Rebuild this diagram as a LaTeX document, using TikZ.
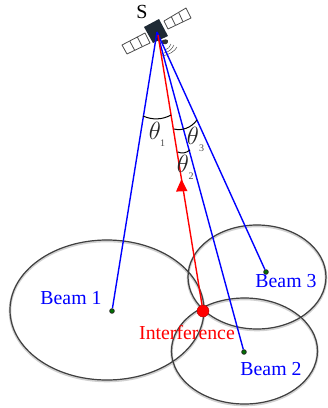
\documentclass[tikz,border=0pt]{standalone}
\usepackage{fontspec}
\setmainfont{Liberation Serif}
\usetikzlibrary{arrows.meta}
\definecolor{satbody}{HTML}{1F2A35}
\begin{document}
\begin{tikzpicture}[x=1pt,y=-1pt,
  cell/.style={draw=black!70,line width=0.8pt,fill=white,line join=round},
  beamcell/.style={draw=black!75,line width=1.2pt},
  halo/.style={draw=black!18,line width=2.6pt},
  spot/.style={circle,draw=black!85,fill=green!45!black,inner sep=0pt,minimum size=4.6pt,line width=0.8pt},
  beamline/.style={draw=blue,line width=1.4pt},
  redline/.style={draw=red,line width=1.4pt},
  beamlabel/.style={text=blue,font=\fontsize{19.8}{22}\selectfont,inner sep=0pt},
  anglearc/.style={draw=black,line width=1pt},
  anglelabel/.style={inner sep=0pt,text=black!85,font=\fontsize{23}{25}\selectfont\itshape},
  sublabel/.style={inner sep=0pt,text=black!70,font=\fontsize{10}{11}\selectfont}]
\useasboundingbox (0,0) rectangle (328,408);
% beam footprints
\draw[halo] (107,311) ellipse [x radius=97,y radius=70];
\draw[halo] (244.5,352) ellipse [x radius=73,y radius=53];
\draw[halo] (257,278) ellipse [x radius=69,y radius=52];
\draw[beamcell] (107,310) ellipse [x radius=97,y radius=70];
\draw[beamcell] (244.5,351) ellipse [x radius=73,y radius=53];
\draw[beamcell] (257,277) ellipse [x radius=69,y radius=52];
% satellite
\fill[cell] (164,21) -- (186,8) -- (191,18) -- (168,29) -- cycle;
\draw[cell] (171.3,16.7) -- (175.5,25.3) (178.6,12.3) -- (183,21.8);
\fill[cell] (122,45) -- (145,33) -- (150,43) -- (127,54) -- cycle;
\draw[cell] (129.7,41) -- (134.7,50.3) (137.3,37) -- (142.3,46.7);
\fill[satbody] (159,19) -- (168,36) -- (153,43) -- (144,27) -- cycle;
\fill[black!80] (160,42) .. controls (164,38) and (169,39) .. (168,42) .. controls (167,45) and (164,45) .. (160,42);
\draw[black!70,line width=0.5pt]
  (165,50) .. controls (168,49) and (170,47) .. (171,44)
  (164,53) .. controls (169,52) and (172,49) .. (174,45)
  (162,56) .. controls (169,55) and (175,51) .. (177,47);
\coordinate (sat) at (157,32);
\coordinate (satred) at (158,35);
\node[inner sep=0pt,font=\fontsize{20}{22}\selectfont] (slabel) at (142,12) {S};
% beam centres
\node[spot] (b1) at (112,311) {};
\node[spot] (b2) at (244,352) {};
\node[spot] (b3) at (266,272) {};
% lines
\draw[beamline] (sat) -- (b1);
\draw[beamline] (sat) -- (b2);
\draw[beamline] (sat) -- (b3);
\node[circle,draw=red!70!black,fill=red,inner sep=0pt,minimum width=12pt,minimum height=10pt] (dot) at (203,311) {};
\draw[redline] (satred) -- (dot);
\coordinate (tip) at (181.5,179);
\draw[draw=none,fill=red] (tip) -- ++(6,12) -- ++(-11.5,0.6) -- cycle;
% angle arcs
\draw[anglearc] (143,116) .. controls (152,120) and (162,120) .. (171,115);
\draw[anglearc] (174,129) .. controls (182,131) and (191,128) .. (197,120);
\draw[anglearc] (178,152) .. controls (182,154) and (186,153) .. (190,150);
% angle labels
\node[anglelabel] (t1) at (155,131) {$\theta$};
\node[sublabel] (s1) at (162.5,143) {1};
\node[anglelabel] (t2) at (183,164) {$\theta$};
\node[sublabel] (s2) at (191,176) {2};
\node[anglelabel] (t3) at (193,136) {$\theta$};
\node[sublabel] (s3) at (201.5,148) {3};
% text
\node[beamlabel] (l1) at (71,298) {Beam 1};
\node[beamlabel] (l2) at (271,369) {Beam 2};
\node[beamlabel] (l3) at (286,281) {Beam 3};
\node[inner sep=0pt,text=red,font=\fontsize{19.8}{22}\selectfont] (li) at (187,333) {Interference};
\end{tikzpicture}
\end{document}
